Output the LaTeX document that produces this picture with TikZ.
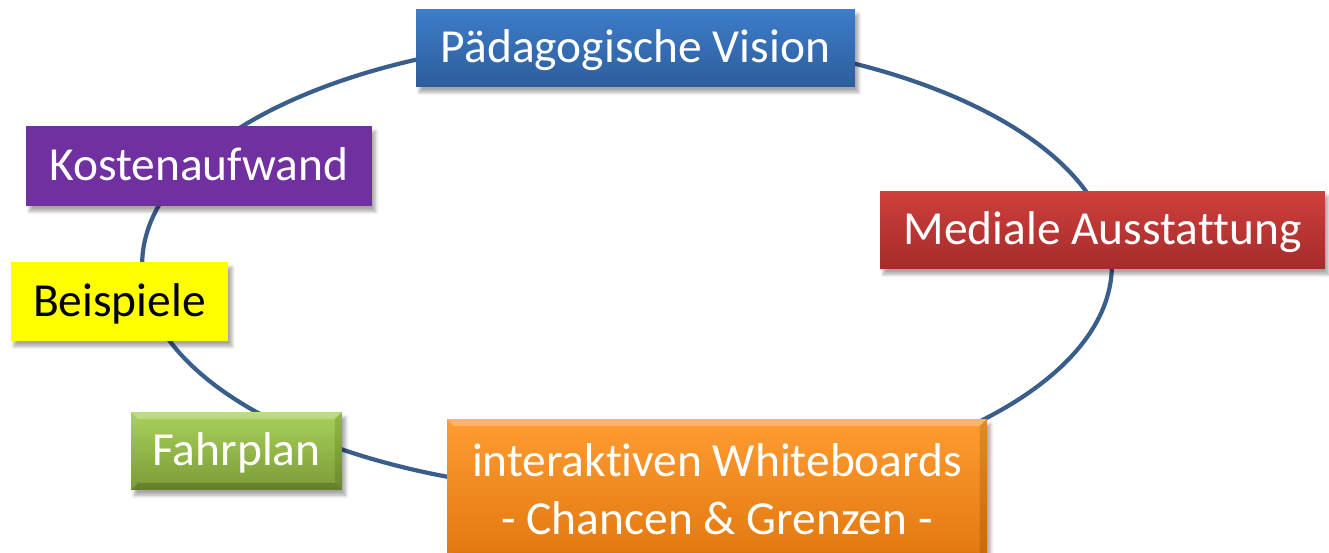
\documentclass[tikz,border=0pt]{standalone}
\usepackage{fontspec}
\setmainfont{Carlito}[Ligatures=NoCommon]
\usetikzlibrary{shadows.blur}
\definecolor{ringblue}{HTML}{3A5E8C}
\definecolor{visiontop}{HTML}{3D7DCA}
\definecolor{visionbot}{HTML}{2D5D9B}
\definecolor{medientop}{HTML}{CF3F3C}
\definecolor{medienbot}{HTML}{A42C2A}
\definecolor{kosten}{HTML}{7030A0}
\definecolor{beispiel}{HTML}{FFFF00}
\definecolor{fahrtop}{HTML}{A9D15B}
\definecolor{fahrbot}{HTML}{7B9B37}
\definecolor{boardtop}{HTML}{FF9C32}
\definecolor{boardbot}{HTML}{E0780E}

\begin{document}
\begin{tikzpicture}[
    x=0.02cm, y=-0.02cm,
    every node/.style={font=\fontsize{27}{33}\selectfont, text=white},
    box/.style={inner sep=0pt,
                blur shadow={shadow xshift=2pt, shadow yshift=-3pt,
                             shadow blur steps=6, shadow opacity=35}},
    oneline/.style={text height=17pt, text depth=0pt},
    bevel/.style={path picture={
        \fill[white, opacity=0.25] (path picture bounding box.north west)
            -- (path picture bounding box.north east)
            -- ([xshift=-4pt,yshift=-4pt]path picture bounding box.north east)
            -- ([xshift=4pt,yshift=-4pt]path picture bounding box.north west) -- cycle;
        \fill[black, opacity=0.18] (path picture bounding box.south west)
            -- (path picture bounding box.south east)
            -- ([xshift=-4pt,yshift=4pt]path picture bounding box.south east)
            -- ([xshift=4pt,yshift=4pt]path picture bounding box.south west) -- cycle;
        \fill[black, opacity=0.12] (path picture bounding box.north east)
            -- (path picture bounding box.south east)
            -- ([xshift=-4pt,yshift=4pt]path picture bounding box.south east)
            -- ([xshift=-4pt,yshift=-4pt]path picture bounding box.north east) -- cycle;
    }},
    ring/.style={draw=ringblue, line width=2.4pt}
]
    \useasboundingbox (0,0) rectangle (1329,553);

    % the loop behind the boxes
    \draw[ring] (627,265) ellipse [x radius=9.7cm, y radius=4.56cm];

    \node[box, oneline, top color=visiontop, bottom color=visionbot,
          minimum width=8.78cm, minimum height=1.56cm] (vision) at (635.5,48) {Pädagogische Vision};
    \node[box, oneline, top color=medientop, bottom color=medienbot,
          minimum width=8.9cm, minimum height=1.56cm] (medien) at (1102.5,230) {Mediale Ausstattung};
    \node[box, oneline, fill=kosten,
          minimum width=6.92cm, minimum height=1.6cm] (kosten) at (199,166) {Kostenaufwand};
    \node[box, oneline, fill=beispiel, text=black,
          minimum width=4.36cm, minimum height=1.58cm] (beispiele) at (119.5,301.5) {Beispiele};
    \node[box, oneline, bevel, top color=fahrtop, bottom color=fahrbot,
          minimum width=4.22cm, minimum height=1.56cm] (fahrplan) at (236.5,451) {Fahrplan};
    \node[box, bevel, top color=boardtop, bottom color=boardbot, align=center,
          minimum width=10.8cm, minimum height=2.82cm] (boards) at (717,489.5)
          {interaktiven Whiteboards\\- Chancen \& Grenzen -};
\end{tikzpicture}
\end{document}
